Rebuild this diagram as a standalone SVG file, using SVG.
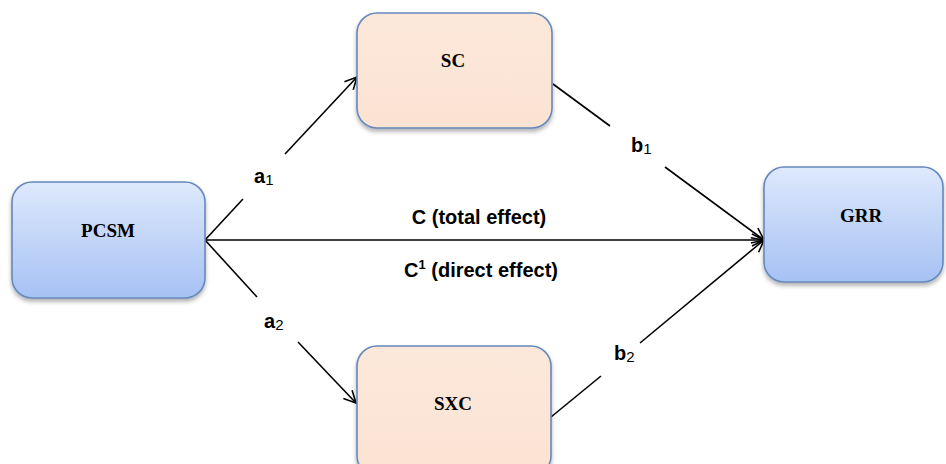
<svg xmlns="http://www.w3.org/2000/svg" width="946" height="464" viewBox="0 0 946 464">
<defs>
<linearGradient id="blue" x1="0" y1="0" x2="0" y2="1">
<stop offset="0" stop-color="#dee9fc"/>
<stop offset="1" stop-color="#a6c1f4"/>
</linearGradient>
<linearGradient id="peach" x1="0" y1="0" x2="0" y2="1">
<stop offset="0" stop-color="#fce8da"/>
<stop offset="1" stop-color="#fbe3d3"/>
</linearGradient>
<filter id="sh" x="-10%" y="-10%" width="120%" height="130%">
<feDropShadow dx="0" dy="3" stdDeviation="2" flood-color="#000" flood-opacity="0.3"/>
</filter>
<marker id="arr" markerUnits="userSpaceOnUse" markerWidth="20" markerHeight="20" refX="13" refY="7" orient="auto">
<path d="M1,1 L13,7 L1,13" fill="none" stroke="#000" stroke-width="1.6"/>
</marker>
</defs>
<style>
.node{stroke:#6688bb;stroke-width:1.6;filter:url(#sh)}
.bl{fill:url(#blue)}
.pe{fill:url(#peach)}
.nl{font-family:"Liberation Serif","Times New Roman",serif;font-weight:bold;font-size:19px;fill:#000;text-anchor:middle}
.el{font-family:"Liberation Sans",Arial,sans-serif;font-weight:bold;font-size:20px;fill:#000}
.sub{font-size:15px;font-weight:normal}
.cl{font-family:"Liberation Sans",Arial,sans-serif;font-weight:bold;font-size:20px;fill:#000;text-anchor:middle}
.ln{stroke:#000;stroke-width:1.6;fill:none}
</style>
<rect width="946" height="464" fill="#fff"/>
<g id="connectors">
<line class="ln" x1="205" y1="240" x2="243" y2="199"/>
<line class="ln" x1="285" y1="154" x2="357" y2="77" marker-end="url(#arr)"/>
<line class="ln" x1="205" y1="240" x2="257" y2="297"/>
<line class="ln" x1="298" y1="342" x2="356" y2="403" marker-end="url(#arr)"/>
<line class="ln" x1="553" y1="84" x2="610" y2="126"/>
<line class="ln" x1="665" y1="167" x2="764" y2="240" marker-end="url(#arr)"/>
<line class="ln" x1="551" y1="417" x2="601" y2="376"/>
<line class="ln" x1="640" y1="343" x2="764" y2="240" marker-end="url(#arr)"/>
<line class="ln" x1="205" y1="240" x2="764" y2="240" stroke-width="2.2" marker-end="url(#arr)"/>
<text class="el" x="254" y="183">a<tspan class="sub" dy="2">1</tspan></text>
<text class="el" x="264" y="328">a<tspan class="sub" dy="2">2</tspan></text>
<text class="el" x="631" y="152">b<tspan class="sub" dy="2">1</tspan></text>
<text class="el" x="614" y="360">b<tspan class="sub" dy="2">2</tspan></text>
<text class="cl" x="479" y="224">C (total effect)</text>
<text class="cl" x="481" y="277">C<tspan font-size="13" dy="-8">1</tspan><tspan dy="8"> (direct effect)</tspan></text>
</g>
<g id="PCSM">
<rect class="node bl" x="12" y="182" width="193" height="116" rx="20"/>
<text class="nl" x="108" y="237">PCSM</text>
</g>
<g id="SC">
<rect class="node pe" x="357" y="13" width="195" height="115" rx="20"/>
<text class="nl" x="453" y="67">SC</text>
</g>
<g id="GRR">
<rect class="node bl" x="764" y="167" width="179" height="115" rx="20"/>
<text class="nl" x="861" y="222">GRR</text>
</g>
<g id="SXC">
<rect class="node pe" x="357" y="346" width="194" height="130" rx="20"/>
<text class="nl" x="453" y="410">SXC</text>
</g>
</svg>
